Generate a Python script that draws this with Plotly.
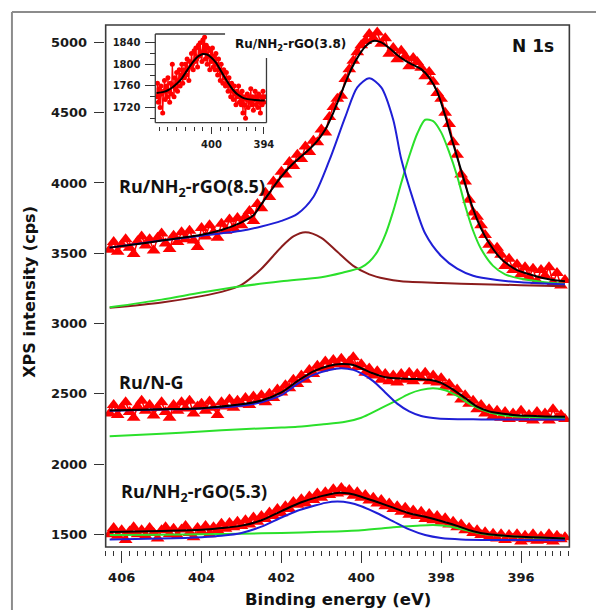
import numpy as np
import plotly.graph_objects as go

# page body has an 8px margin: the figure is sized to fit the 604x610 window
OX, OY = 8, 8
W, H = 604 - OX, 610 - OY

# ---------------- data ----------------
# energy grid of the measured spectra (0.1 eV steps)
energy = np.round(406.3 - 0.1 * np.arange(115), 2)
energy_inset = np.round(406.3 - 0.1 * np.arange(125), 2)

data_85 = [3525, 3580, 3510, 3560, 3600, 3540, 3495, 3585, 3620, 3555,
           3600, 3520, 3610, 3640, 3570, 3530, 3625, 3580, 3650, 3600,
           3660, 3590, 3545, 3680, 3620, 3700, 3650, 3610, 3710, 3660,
           3740, 3680, 3750, 3700, 3760, 3800, 3730, 3850, 3820, 3930,
           3900, 4010, 3990, 4080, 4060, 4150, 4120, 4200, 4170, 4260,
           4220, 4300, 4290, 4380, 4360, 4470, 4540, 4600, 4620, 4740,
           4810, 4870, 4930, 4980, 5010, 5060, 5030, 5070, 4990, 5030,
           4920, 4960, 4880, 4940, 4900, 4830, 4890, 4860, 4820, 4760,
           4790, 4720, 4640, 4600, 4500, 4420, 4290, 4200, 4060, 4010,
           3880, 3790, 3760, 3700, 3630, 3560, 3520, 3540, 3490, 3410,
           3460, 3380, 3420, 3350, 3400, 3330, 3390, 3300, 3380, 3340,
           3400, 3290, 3360, 3270, 3310]

data_ng = [2360, 2420, 2350, 2400, 2440, 2370, 2330, 2410, 2450, 2380,
           2420, 2345, 2400, 2440, 2370, 2330, 2420, 2380, 2440, 2395,
           2450, 2360, 2410, 2430, 2380, 2445, 2400, 2350, 2440, 2410,
           2460, 2400, 2450, 2425, 2470, 2420, 2480, 2450, 2490, 2440,
           2500, 2470, 2530, 2510, 2560, 2540, 2600, 2570, 2630, 2600,
           2670, 2640, 2700, 2680, 2730, 2690, 2740, 2710, 2750, 2700,
           2730, 2760, 2690, 2710, 2650, 2680, 2630, 2660, 2600, 2640,
           2590, 2630, 2580, 2640, 2600, 2650, 2590, 2640, 2610, 2650,
           2590, 2630, 2580, 2610, 2550, 2570, 2510, 2530, 2460, 2490,
           2430, 2450, 2390, 2420, 2360, 2390, 2340, 2380, 2330, 2370,
           2320, 2360, 2330, 2380, 2320, 2350, 2310, 2370, 2330, 2360,
           2310, 2390, 2330, 2350, 2320]

data_53 = [1500, 1545, 1490, 1530, 1460, 1520, 1550, 1500, 1530, 1490,
           1545, 1510, 1470, 1530, 1550, 1500, 1540, 1490, 1535, 1560,
           1510, 1480, 1545, 1520, 1560, 1500, 1550, 1530, 1575, 1540,
           1580, 1550, 1590, 1560, 1600, 1570, 1620, 1590, 1630, 1610,
           1655, 1630, 1680, 1650, 1700, 1680, 1730, 1710, 1750, 1720,
           1770, 1745, 1790, 1760, 1800, 1780, 1820, 1790, 1830, 1800,
           1815, 1775, 1800, 1760, 1780, 1740, 1760, 1720, 1745, 1700,
           1720, 1680, 1700, 1660, 1690, 1640, 1670, 1630, 1660, 1610,
           1645, 1600, 1630, 1590, 1615, 1570, 1590, 1550, 1570, 1530,
           1545, 1510, 1530, 1495, 1515, 1480, 1505, 1470, 1500, 1460,
           1495, 1470, 1500, 1450, 1490, 1465, 1500, 1455, 1485, 1460,
           1500, 1450, 1490, 1465, 1480]

data_38 = [1740, 1765, 1730, 1755, 1720, 1760, 1745, 1710, 1750, 1770,
           1735, 1760, 1740, 1775, 1750, 1730, 1765, 1745, 1800, 1760,
           1740, 1775, 1755, 1785, 1750, 1770, 1790, 1760, 1780, 1800,
           1765, 1790, 1775, 1800, 1780, 1810, 1790, 1770, 1805, 1795,
           1820, 1800, 1790, 1825, 1805, 1830, 1810, 1795, 1835, 1815,
           1840, 1820, 1805, 1845, 1825, 1850, 1810, 1835, 1800, 1830,
           1815, 1790, 1825, 1805, 1830, 1795, 1815, 1790, 1820, 1800,
           1780, 1810, 1790, 1770, 1800, 1785, 1765, 1790, 1775, 1760,
           1785, 1765, 1750, 1775, 1760, 1740, 1765, 1750, 1735, 1760,
           1745, 1725, 1750, 1740, 1760, 1730, 1745, 1725, 1750, 1710,
           1740, 1725, 1700, 1735, 1745, 1720, 1740, 1730, 1755, 1725,
           1740, 1715, 1735, 1750, 1725, 1740, 1720, 1745, 1730, 1710,
           1740, 1725, 1750, 1730, 1740]

# fitted envelope and components (sampled along the curves)
fit85_x = [406.3, 405.5, 405.0, 404.5, 404.0, 403.5, 403.0, 402.7, 402.5, 402.3,
           402.1, 401.9, 401.7, 401.5, 401.3, 401.1, 400.9, 400.7, 400.5, 400.3,
           400.1, 399.9, 399.7, 399.5, 399.3, 399.1, 398.9, 398.7, 398.5, 398.3,
           398.1, 397.9, 397.7, 397.5, 397.3, 397.1, 396.9, 396.7, 396.5, 396.3,
           396.1, 395.9, 395.6, 395.3, 394.9]
fit85_y = [3540, 3570, 3590, 3610, 3632, 3665, 3720, 3770, 3850, 3930,
           4010, 4080, 4140, 4190, 4240, 4300, 4380, 4500, 4640, 4780,
           4890, 4970, 5010, 5000, 4960, 4910, 4870, 4840, 4810, 4750,
           4650, 4480, 4280, 4090, 3900, 3740, 3620, 3530, 3460, 3415,
           3380, 3360, 3335, 3315, 3300]
blue85_x = [406.3, 405.0, 404.0, 403.0, 402.5, 402.0, 401.6, 401.2, 400.8, 400.4,
            400.1, 399.8, 399.5, 399.2, 399.0, 398.7, 398.4, 398.0, 397.6, 397.2,
            396.6, 396.0, 395.0, 394.9]
blue85_y = [3540, 3590, 3625, 3660, 3690, 3730, 3780, 3900, 4160, 4470,
            4680, 4745, 4680, 4450, 4170, 3880, 3640, 3480, 3390, 3340,
            3310, 3293, 3280, 3279]
green85_x = [406.3, 405.0, 404.0, 403.0, 402.0, 401.0, 400.5, 400.0, 399.8, 399.6,
             399.4, 399.2, 399.0, 398.8, 398.6, 398.4, 398.2, 398.0, 397.8, 397.6,
             397.4, 397.2, 397.0, 396.7, 396.4, 396.0, 395.5, 394.9]
green85_y = [3115, 3170, 3220, 3265, 3300, 3330, 3360, 3400, 3440, 3510,
             3630, 3800, 4000, 4190, 4350, 4450, 4440, 4360, 4220, 4050,
             3840, 3660, 3530, 3410, 3350, 3318, 3298, 3282]
brown85_x = [406.3, 405.0, 404.0, 403.5, 403.0, 402.5, 402.0, 401.7, 401.4, 401.0,
             400.6, 400.2, 399.8, 399.4, 399.0, 398.0, 397.0, 396.0, 394.9]
brown85_y = [3112, 3150, 3195, 3225, 3275, 3390, 3545, 3620, 3650, 3610,
             3510, 3410, 3350, 3318, 3300, 3288, 3280, 3273, 3266]

fitng_x = [406.3, 405.0, 404.0, 403.0, 402.5, 402.0, 401.6, 401.2, 400.8, 400.5,
           400.2, 400.0, 399.7, 399.4, 399.0, 398.6, 398.3, 398.0, 397.7, 397.4,
           397.1, 396.8, 396.5, 396.2, 395.8, 395.4, 394.9]
fitng_y = [2382, 2390, 2398, 2425, 2452, 2510, 2590, 2660, 2700, 2712,
           2705, 2682, 2645, 2618, 2608, 2605, 2600, 2578, 2530, 2470,
           2408, 2375, 2360, 2350, 2343, 2339, 2336]
bluen_x = [406.3, 405.0, 404.0, 403.0, 402.5, 402.0, 401.6, 401.2, 400.8, 400.5,
           400.2, 400.0, 399.7, 399.4, 399.1, 398.8, 398.5, 398.2, 397.8, 397.0, 394.9]
bluen_y = [2380, 2388, 2396, 2415, 2440, 2490, 2570, 2635, 2670, 2681,
           2670, 2645, 2590, 2510, 2430, 2375, 2342, 2328, 2320, 2318, 2318]
greenn_x = [406.3, 405.0, 404.0, 403.0, 402.0, 401.6, 401.0, 400.4, 400.0, 399.6,
            399.2, 398.8, 398.5, 398.2, 397.9, 397.6, 397.3, 397.0, 396.6, 396.2,
            395.6, 394.9]
greenn_y = [2198, 2215, 2232, 2248, 2260, 2266, 2282, 2301, 2330, 2384,
            2440, 2500, 2528, 2539, 2525, 2485, 2430, 2388, 2355, 2340,
            2332, 2327]

fit53_x = [406.3, 405.0, 404.0, 403.5, 403.0, 402.5, 402.0, 401.5, 401.0, 400.6,
           400.3, 400.0, 399.6, 399.2, 398.8, 398.4, 398.0, 397.6, 397.2, 396.8,
           396.4, 396.0, 395.5, 394.9]
fit53_y = [1517, 1524, 1532, 1545, 1562, 1600, 1665, 1728, 1772, 1795,
           1790, 1768, 1730, 1690, 1650, 1625, 1595, 1560, 1522, 1500,
           1490, 1483, 1477, 1471]
blue53_x = [406.3, 405.0, 404.0, 403.5, 403.0, 402.5, 402.0, 401.6, 401.2, 400.9,
            400.6, 400.3, 400.0, 399.6, 399.2, 398.8, 398.4, 398.0, 397.5, 396.5, 394.9]
blue53_y = [1463, 1470, 1480, 1490, 1510, 1555, 1620, 1668, 1702, 1724,
            1733, 1725, 1700, 1650, 1592, 1535, 1495, 1474, 1464, 1460, 1458]
green53_x = [406.3, 405.0, 404.0, 403.0, 402.0, 401.0, 400.0, 399.2, 398.6, 398.2,
             397.8, 397.5, 397.1, 396.7, 396.0, 394.9]
green53_y = [1495, 1497, 1500, 1505, 1510, 1518, 1530, 1550, 1562, 1567,
             1558, 1537, 1512, 1495, 1482, 1472]

fit38_x = [406.3, 405.5, 405.0, 404.5, 404.0, 403.5, 403.0, 402.5, 402.0, 401.5,
           401.0, 400.5, 400.0, 399.5, 399.0, 398.5, 398.0, 397.5, 397.0, 396.5,
           396.0, 395.0, 393.9]
fit38_y = [1747, 1749, 1752, 1757, 1764, 1772, 1784, 1796, 1807, 1815,
           1819, 1818, 1812, 1803, 1790, 1776, 1763, 1752, 1744, 1739,
           1736, 1734, 1733]

main_xticks = [406, 404, 402, 400, 398, 396]
main_yticks = [1500, 2000, 2500, 3000, 3500, 4000, 4500, 5000]
inset_xticks = [400, 394]
inset_yticks = [1720, 1760, 1800, 1840]

labels = ["Ru/NH<sub>2</sub>-rGO(8.5)", "Ru/N-G", "Ru/NH<sub>2</sub>-rGO(5.3)"]
inset_label = "Ru/NH<sub>2</sub>-rGO(3.8)"

# ---------------- styling ----------------
RED = "#ff0000"
BLUE = "#1f1fd6"
GREEN = "#2be02b"
BROWN = "#8b1c1c"
BLACK = "#000000"
FRAME = "#3a3a3a"
TICKFONT = dict(family="DejaVu Sans", size=13, color="#1a1a1a", weight="bold")


def fx(p):
    """window pixel x -> paper fraction"""
    return (p - OX) / W


def fy(p):
    """window pixel y -> paper fraction"""
    return 1 - (p - OY) / H


fig = go.Figure()


def tri(x, y):
    fig.add_trace(go.Scatter(x=x, y=y, mode="lines+markers", xaxis="x", yaxis="y",
                             line=dict(color=RED, width=1.5),
                             marker=dict(symbol="triangle-up", size=12, color=RED,
                                         line=dict(width=0)),
                             hoverinfo="skip"))


def curve(x, y, color, xa="x", ya="y", width=2):
    fig.add_trace(go.Scatter(x=x, y=y, mode="lines", xaxis=xa, yaxis=ya,
                             line=dict(color=color, width=width, shape="spline",
                                       smoothing=0.8),
                             hoverinfo="skip"))


tri(energy, data_85)
tri(energy, data_ng)
tri(energy, data_53)

curve(brown85_x, brown85_y, BROWN)
curve(green85_x, green85_y, GREEN)
curve(blue85_x, blue85_y, BLUE)
curve(fit85_x, fit85_y, BLACK)

curve(greenn_x, greenn_y, GREEN)
curve(bluen_x, bluen_y, BLUE)
curve(fitng_x, fitng_y, BLACK)

curve(green53_x, green53_y, GREEN)
curve(blue53_x, blue53_y, BLUE)
curve(fit53_x, fit53_y, BLACK)

# inset
fig.add_trace(go.Scatter(x=energy_inset, y=data_38, mode="lines+markers",
                         xaxis="x2", yaxis="y2",
                         line=dict(color=RED, width=1.2),
                         marker=dict(symbol="circle", size=5, color=RED),
                         hoverinfo="skip"))
curve(fit38_x, fit38_y, BLACK, "x2", "y2", 2)

# main plot box (window pixels)
L, R, T, B = 107, 577, 25, 547
# inset box (window pixels)
iL, iR, iT, iB = 157.3, 270, 34, 122.7

fig.update_layout(
    width=W, height=H,
    margin=dict(l=0, r=0, t=0, b=0),
    paper_bgcolor="white", plot_bgcolor="rgba(0,0,0,0)",
    showlegend=False,
    xaxis=dict(domain=[fx(L), fx(R)], range=[406.4, 394.79], anchor="free",
               position=fy(549.5), showline=False, showgrid=False, zeroline=False,
               tickmode="array", tickvals=main_xticks, ticks="outside", ticklen=12,
               tickwidth=1.3, tickcolor="#333", tickfont=TICKFONT,
               ticklabelstandoff=4,
               minor=dict(dtick=0.2, tick0=406, ticks="outside", ticklen=5,
                          tickwidth=1.1, tickcolor="#333", showgrid=False)),
    yaxis=dict(domain=[fy(B), fy(T)], range=[1410, 5124], anchor="free",
               position=fx(105), showline=False, showgrid=False, zeroline=False,
               tickmode="array", tickvals=main_yticks, ticks="outside", ticklen=10,
               tickwidth=1.3, tickcolor="#333", tickfont=TICKFONT,
               ticklabelstandoff=4),
    xaxis2=dict(domain=[fx(iL), fx(iR)], range=[406.45, 393.7], anchor="free",
                position=fy(126), showline=False, showgrid=False, zeroline=False,
                tickmode="array", tickvals=inset_xticks, ticks="outside", ticklen=7,
                tickwidth=1.1, tickcolor="#333",
                tickfont=dict(family="DejaVu Sans", size=10, color="#1a1a1a",
                              weight="bold"),
                ticklabelstandoff=2,
                minor=dict(dtick=1, tick0=394, ticks="outside", ticklen=4,
                           tickwidth=1, tickcolor="#333", showgrid=False)),
    yaxis2=dict(domain=[fy(iB), fy(iT)], range=[1692, 1856], anchor="free",
                position=fx(156.5), showline=False, showgrid=False, zeroline=False,
                tickmode="array", tickvals=inset_yticks, ticks="outside", ticklen=10,
                tickwidth=1.1, tickcolor="#333",
                tickfont=dict(family="DejaVu Sans", size=10, color="#1a1a1a",
                              weight="bold"),
                ticklabelstandoff=2,
                minor=dict(dtick=20, tick0=1700, ticks="outside", ticklen=5,
                           tickwidth=1, tickcolor="#333", showgrid=False)),
)

shapes = [
    # outer figure border
    dict(type="line", xref="paper", yref="paper", x0=fx(12), x1=fx(604), y0=fy(12), y1=fy(12),
         line=dict(color="#8c8c8c", width=2)),
    dict(type="line", xref="paper", yref="paper", x0=fx(12), x1=fx(12), y0=fy(12), y1=fy(612),
         line=dict(color="#8c8c8c", width=2)),
    # main frame
    dict(type="rect", xref="paper", yref="paper", x0=fx(L), x1=fx(R), y0=fy(B), y1=fy(T),
         line=dict(color=FRAME, width=1.6)),
    # inset frame (open at top right)
    dict(type="line", xref="paper", yref="paper", x0=fx(iL), x1=fx(iL), y0=fy(iB), y1=fy(iT),
         line=dict(color=FRAME, width=1.3)),
    dict(type="line", xref="paper", yref="paper", x0=fx(iL), x1=fx(iR), y0=fy(iB), y1=fy(iB),
         line=dict(color=FRAME, width=1.3)),
    dict(type="line", xref="paper", yref="paper", x0=fx(iL), x1=fx(228), y0=fy(iT), y1=fy(iT),
         line=dict(color=FRAME, width=1.3)),
    dict(type="line", xref="paper", yref="paper", x0=fx(iR), x1=fx(iR), y0=fy(58), y1=fy(iB),
         line=dict(color=FRAME, width=1.3)),
]
fig.update_layout(shapes=shapes)

LABELFONT = dict(family="Open Sans", size=18, color="#111", weight="bold")
annots = [
    dict(text=labels[0], x=fx(118), y=fy(187), xanchor="left", yanchor="middle", font=LABELFONT),
    dict(text=labels[1], x=fx(118), y=fy(382), xanchor="left", yanchor="middle", font=LABELFONT),
    dict(text=labels[2], x=fx(121), y=fy(492), xanchor="left", yanchor="middle", font=LABELFONT),
    dict(text=inset_label, x=fx(236), y=fy(45), xanchor="left", yanchor="middle",
         font=dict(family="DejaVu Sans", size=12, color="#111", weight="bold")),
    dict(text="N 1s", x=fx(563), y=fy(46), xanchor="right", yanchor="middle",
         font=dict(family="DejaVu Sans", size=17, color="#111", weight="bold")),
    dict(text="XPS intensity (cps)", x=fx(29), y=fy(292), textangle=-90,
         xanchor="center", yanchor="middle",
         font=dict(family="DejaVu Sans", size=16, color="#111", weight="bold")),
    dict(text="Binding energy (eV)", x=fx(342), y=fy(599), xanchor="center", yanchor="middle",
         font=dict(family="DejaVu Sans", size=16.5, color="#111", weight="bold")),
]
for a in annots:
    a.update(xref="paper", yref="paper", showarrow=False)
fig.update_layout(annotations=annots)

fig.write_html("out.html")
